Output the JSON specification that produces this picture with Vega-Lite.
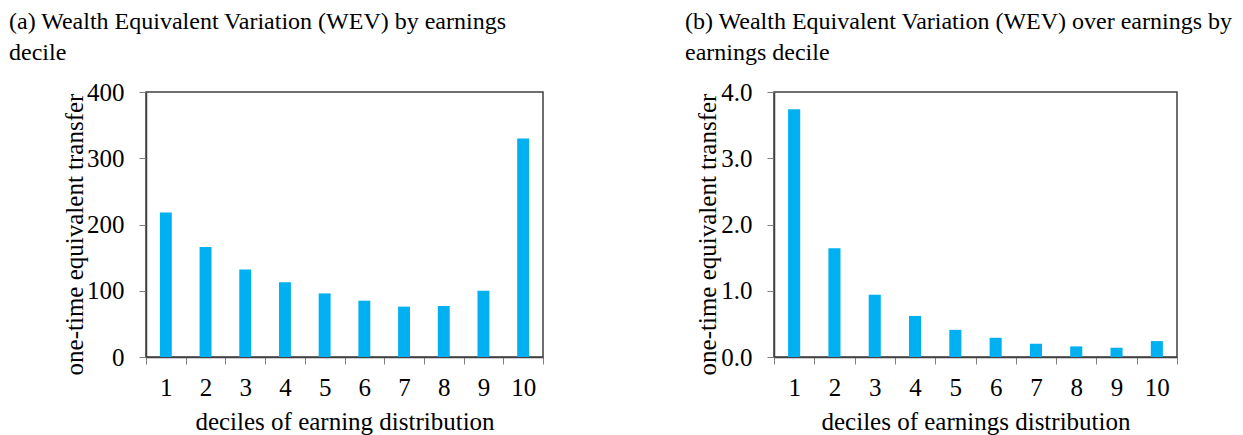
{
  "$schema": "https://vega.github.io/schema/vega-lite/v6.json",
  "padding": {"left": 8, "top": 9, "right": 0, "bottom": 0},
  "autosize": {"type": "pad"},
  "background": "white",
  "config": {
    "font": "Liberation Serif",
    "view": {"stroke": "#404040", "strokeWidth": 1.5},
    "axis": {
      "grid": false,
      "domainColor": "#404040",
      "domainWidth": 1.5,
      "tickColor": "#808080",
      "tickWidth": 1,
      "tickSize": 7,
      "labelFont": "Liberation Serif",
      "labelFontSize": 25,
      "labelColor": "#000000",
      "titleFont": "Liberation Serif",
      "titleFontSize": 25,
      "titleFontWeight": "normal",
      "titleColor": "#000000"
    },
    "title": {
      "font": "Liberation Serif",
      "fontSize": 24,
      "fontWeight": "normal",
      "color": "#000000",
      "anchor": "start",
      "frame": "group",
      "lineHeight": 31,
      "offset": 15
    }
  },
  "datasets": {
    "a": [
      {"decile": 1, "wev": 218},
      {"decile": 2, "wev": 166},
      {"decile": 3, "wev": 132},
      {"decile": 4, "wev": 113},
      {"decile": 5, "wev": 96},
      {"decile": 6, "wev": 85},
      {"decile": 7, "wev": 76},
      {"decile": 8, "wev": 77},
      {"decile": 9, "wev": 100},
      {"decile": 10, "wev": 330}
    ],
    "b": [
      {"decile": 1, "ratio": 3.74},
      {"decile": 2, "ratio": 1.64},
      {"decile": 3, "ratio": 0.94},
      {"decile": 4, "ratio": 0.62},
      {"decile": 5, "ratio": 0.41},
      {"decile": 6, "ratio": 0.29},
      {"decile": 7, "ratio": 0.20},
      {"decile": 8, "ratio": 0.16},
      {"decile": 9, "ratio": 0.14},
      {"decile": 10, "ratio": 0.24}
    ]
  },
  "spacing": 139,
  "hconcat": [
    {
      "width": 397,
      "height": 265,
      "title": {"text": ["(a) Wealth Equivalent Variation (WEV) by earnings", "decile"], "dx": -137},
      "data": {"name": "a"},
      "mark": {"type": "bar", "color": "#00B0F0", "width": {"band": 0.3}},
      "encoding": {
        "x": {
          "field": "decile", "type": "ordinal",
          "scale": {"paddingInner": 0, "paddingOuter": 0},
          "axis": {"title": "deciles of earning distribution", "labelAngle": 0, "tickBand": "extent", "labelPadding": 11, "titlePadding": 9}
        },
        "y": {
          "field": "wev", "type": "quantitative",
          "scale": {"domain": [0, 400], "nice": false},
          "axis": {"values": [0, 100, 200, 300, 400], "title": "one-time equivalent transfer", "labelPadding": 15, "titleX": -64, "titleY": 142, "titleBaseline": "alphabetic"}
        }
      }
    },
    {
      "width": 403,
      "height": 265,
      "title": {"text": ["(b) Wealth Equivalent Variation (WEV) over earnings by", "earnings decile"], "dx": -89},
      "data": {"name": "b"},
      "mark": {"type": "bar", "color": "#00B0F0", "width": {"band": 0.3}},
      "encoding": {
        "x": {
          "field": "decile", "type": "ordinal",
          "scale": {"paddingInner": 0, "paddingOuter": 0},
          "axis": {"title": "deciles of earnings distribution", "labelAngle": 0, "tickBand": "extent", "labelPadding": 11, "titlePadding": 9}
        },
        "y": {
          "field": "ratio", "type": "quantitative",
          "scale": {"domain": [0, 4], "nice": false},
          "axis": {"values": [0, 1, 2, 3, 4], "format": ".1f", "title": "one-time equivalent transfer", "labelPadding": 15, "titleX": -59, "titleY": 142, "titleBaseline": "alphabetic"}
        }
      }
    }
  ]
}
